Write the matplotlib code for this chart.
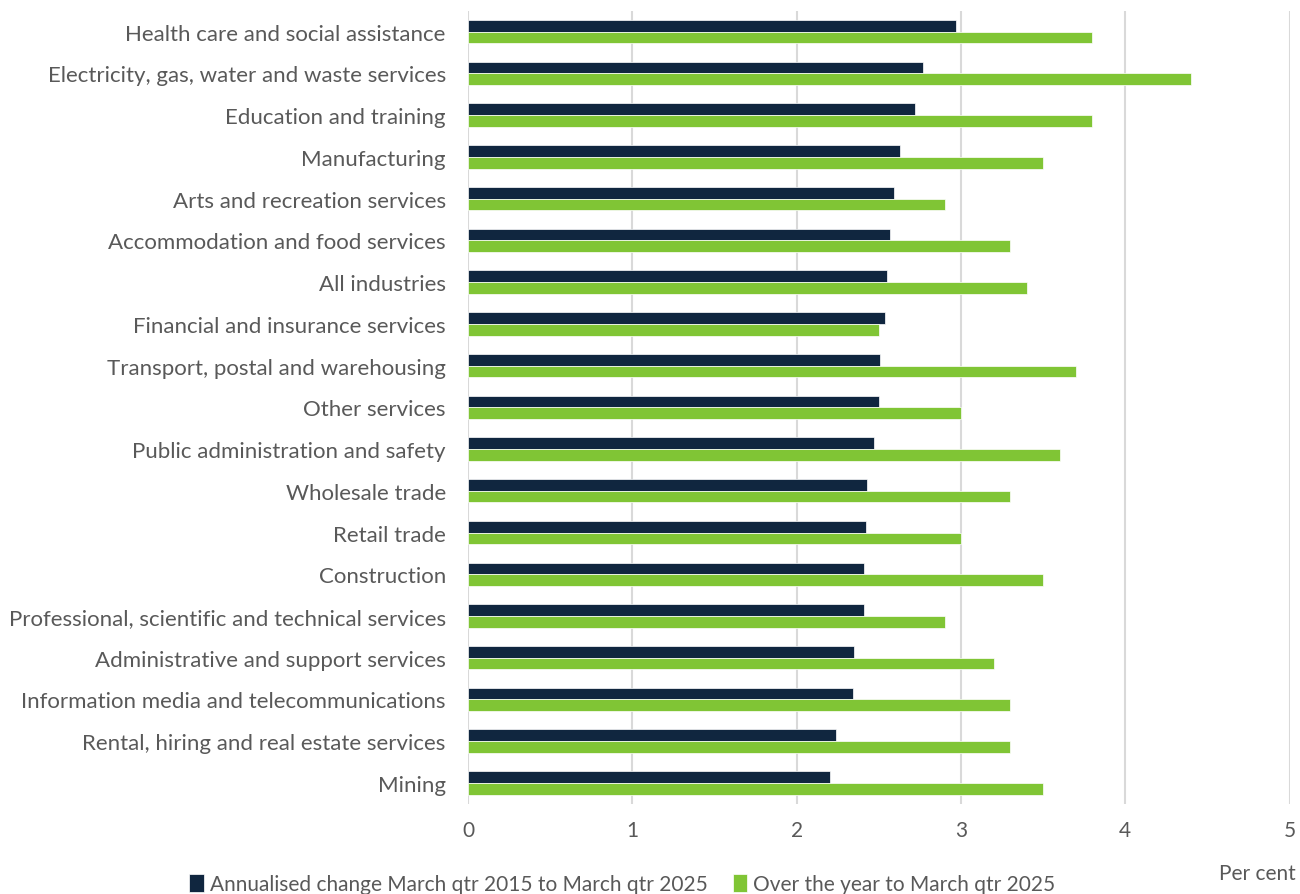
import matplotlib
matplotlib.use("Agg")
import matplotlib.pyplot as plt
import numpy as np

industries = [
    "Health care and social assistance",
    "Electricity, gas, water and waste services",
    "Education and training",
    "Manufacturing",
    "Arts and recreation services",
    "Accommodation and food services",
    "All industries",
    "Financial and insurance services",
    "Transport, postal and warehousing",
    "Other services",
    "Public administration and safety",
    "Wholesale trade",
    "Retail trade",
    "Construction",
    "Professional, scientific and technical services",
    "Administrative and support services",
    "Information media and telecommunications",
    "Rental, hiring and real estate services",
    "Mining",
]
annualised = [2.97, 2.77, 2.72, 2.63, 2.59, 2.57, 2.55, 2.54, 2.51, 2.50,
              2.47, 2.43, 2.42, 2.41, 2.41, 2.35, 2.34, 2.24, 2.20]
over_year = [3.8, 4.4, 3.8, 3.5, 2.9, 3.3, 3.4, 2.5, 3.7, 3.0,
             3.6, 3.3, 3.0, 3.5, 2.9, 3.2, 3.3, 3.3, 3.5]

plt.rcParams["font.family"] = ["Lato", "DejaVu Sans"]
NAVY = "#10263f"
GREEN = "#80c535"
GREY = "#595959"

fig = plt.figure(figsize=(13, 8.95), dpi=100)
ax = fig.add_axes([0.36, 0.1008, 0.632, 0.886])

y = np.arange(len(industries))
h = 0.28
ax.barh(y - h / 2, annualised, height=h, color=NAVY, edgecolor="white", linewidth=0.5,
        label="Annualised change March qtr 2015 to March qtr 2025", zorder=3)
ax.barh(y + h / 2, over_year, height=h, color=GREEN, edgecolor="white", linewidth=0.5,
        label="Over the year to March qtr 2025", zorder=3)

ax.set_ylim(len(industries) - 0.5, -0.5)
ax.set_xlim(0, 5)
ax.set_yticks(y)
ax.set_yticklabels(industries, fontsize=16, color=GREY)
ax.set_xticks(range(6))
ax.tick_params(axis="x", labelsize=15, labelcolor=GREY, length=0, pad=12)
ax.tick_params(axis="y", length=0, pad=16)
ax.grid(axis="x", color="#d9d9d9", linewidth=1.5, zorder=0)
for s in ax.spines.values():
    s.set_visible(False)

fig.text(0.997, 0.024, "Per cent", ha="right", va="center", fontsize=15, color=GREY)
fig.legend(loc="lower left", bbox_to_anchor=(0.131, -0.021), ncols=2, frameon=False,
           fontsize=15, labelcolor=GREY, handlelength=0.7, handleheight=0.9,
           handletextpad=0.3, columnspacing=1.2)

fig.savefig("out.png", dpi=100)
